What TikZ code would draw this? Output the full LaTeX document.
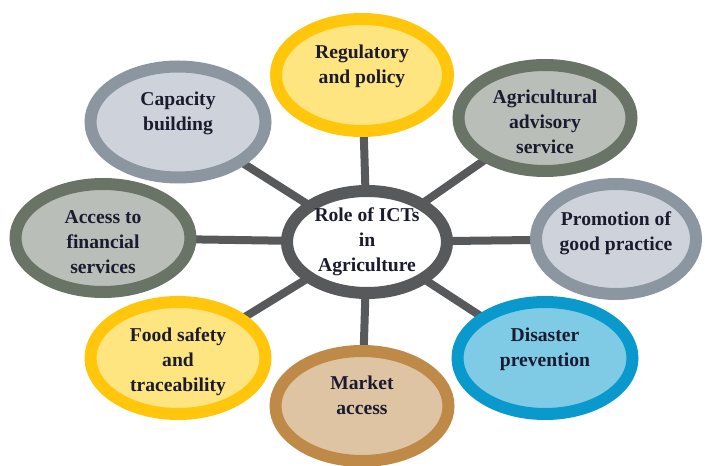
\documentclass[tikz,border=0pt]{standalone}
\usepackage{fontspec}
\setmainfont{Liberation Serif}
\usetikzlibrary{shapes.geometric,backgrounds}
\definecolor{txt}{HTML}{1B1B2F}
\definecolor{linkc}{HTML}{58595B}
\definecolor{goldB}{HTML}{FFC60B}
\definecolor{goldF}{HTML}{FFE580}
\definecolor{slateB}{HTML}{8C96A0}
\definecolor{slateF}{HTML}{CED3DB}
\definecolor{greenB}{HTML}{6A7466}
\definecolor{greenF}{HTML}{B9BEB8}
\definecolor{blueB}{HTML}{0A99CC}
\definecolor{blueF}{HTML}{7FCBE5}
\definecolor{brownB}{HTML}{BF8A48}
\definecolor{brownF}{HTML}{DFC4A4}
\newcommand{\pushup}{\rule[-22pt]{0pt}{22pt}}
\newcommand{\pushdn}{\rule{0pt}{21pt}}
\begin{document}
\begin{tikzpicture}[x=1pt,y=1pt,
  bubble/.style={ellipse, draw, line width=12pt, inner sep=0pt, align=center,
    text=txt, font=\fontsize{19.6}{25}\selectfont\bfseries},
  gold/.style={bubble, draw=goldB, fill=goldF},
  slate/.style={bubble, draw=slateB, fill=slateF},
  green/.style={bubble, draw=greenB, fill=greenF},
  blue/.style={bubble, draw=blueB, fill=blueF},
  brown/.style={bubble, draw=brownB, fill=brownF},
  hub/.style={bubble, draw=linkc, fill=white},
  link/.style={draw=linkc, line width=8pt}]
\useasboundingbox (0,0) rectangle (705,466);
\node[hub, minimum width=160pt, minimum height=102pt] (ctr) at (367,224) {Role of ICTs\\in\\Agriculture};
\node[gold, minimum width=172pt, minimum height=112pt] (reg) at (362,391) {Regulatory\\and policy\pushup};
\node[slate, minimum width=175pt, minimum height=111pt] (cap) at (178,344) {Capacity\\building\pushup};
\node[green, minimum width=173pt, minimum height=106pt] (agri) at (545,348) {\pushdn Agricultural\\advisory\\service};
\node[green, minimum width=175pt, minimum height=108pt] (acc) at (103,228) {\pushdn Access to\\financial\\services};
\node[slate, minimum width=160pt, minimum height=110pt] (prom) at (616,227) {Promotion of\\good practice\rule[-16pt]{0pt}{16pt}};
\node[gold, minimum width=175pt, minimum height=112pt] (food) at (178,108) {\pushdn Food safety\\and\\traceability};
\node[blue, minimum width=175pt, minimum height=112pt] (dis) at (545,108) {Disaster\\prevention\pushup};
\node[brown, minimum width=173pt, minimum height=110pt] (mkt) at (362,60) {Market\\access\pushup};
\begin{scope}[on background layer]
\foreach \n in {reg,cap,agri,acc,prom,food,dis,mkt}
  \draw[link] (ctr.center) -- (\n.center);
\end{scope}
\end{tikzpicture}
\end{document}
